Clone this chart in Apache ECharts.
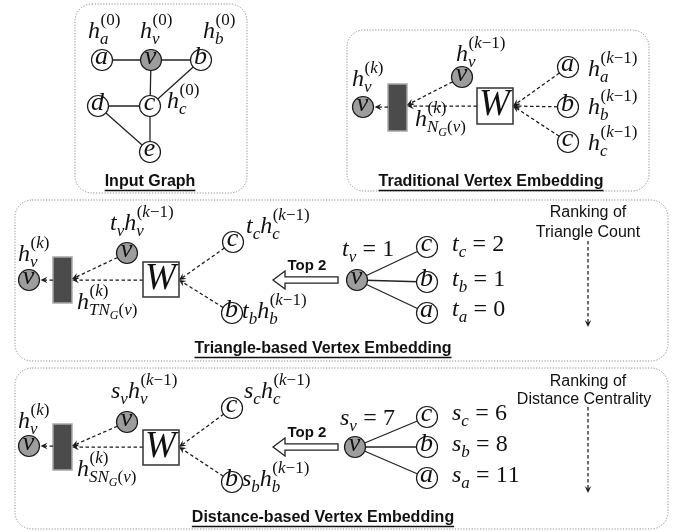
<!DOCTYPE html>
<html><head><meta charset="utf-8">
<script src="https://cdn.jsdelivr.net/npm/echarts@6/dist/echarts.min.js"></script>
<style>html,body{margin:0;padding:0;background:#fff}#c{width:681px;height:532px}</style>
</head><body><div id="c"></div>
<script>
// ---------------- data ----------------
const panelBoxes = [[75,4,247,193],[347,30,649,191],[15,200,668,361],[15,368,668,529]];
const panelTitles = ['Input Graph','Traditional Vertex Embedding','Triangle-based Vertex Embedding','Distance-based Vertex Embedding'];
const panelTitleAt = [[150,182],[491,182],[323,349],[323,518]];

// nodes: id, letter, x, y, shaded
const inputNodes = [['a','a',102,60,0],['v','v',151,60,1],['b','b',201,60,0],['d','d',98,106,0],['c','c',150,106,0],['e','e',150,152,0]];
const inputEdges = [['a','v'],['v','b'],['v','c'],['b','c'],['d','c'],['d','e'],['c','e']];
const tradNodes = [['T_out','v',363,107,1],['T_v','v',462,77,1],['T_a','a',568,67,0],['T_b','b',568,107,0],['T_c','c',568,142,0]];
const triNodes = [['R_out','v',29,280,1],['R_v','v',127,253,1],['R_c','c',233,242,0],['R_b','b',232,313,0],
                  ['R_rv','v',357,280,1],['R_rc','c',427,247,0],['R_rb','b',427,282,0],['R_ra','a',427,313,0]];
const triEdges = [['R_rv','R_rc'],['R_rv','R_rb'],['R_rv','R_ra']];
const distNodes = [['D_out','v',29,446,1],['D_v','v',127,422,1],['D_c','c',232,408,0],['D_b','b',232,482,0],
                   ['D_rv','v',355,447,1],['D_rc','c',427,417,0],['D_rb','b',427,447,0],['D_ra','a',427,478,0]];
const distEdges = [['D_rv','D_rc'],['D_rv','D_rb'],['D_rv','D_ra']];

const dashedArrows = [
  ['T_a',[513,106]],['T_b',[513,106]],['T_c',[513,106]],[[477,106],[407,106]],['T_v',[407,105]],[[388,107],'T_out'],
  ['R_c',[179,280]],['R_b',[179,280]],[[143,280],[72,280]],['R_v',[72,279]],[[53,280],'R_out'],
  ['D_c',[179,447]],['D_b',[179,447]],[[143,447],[72,447]],['D_v',[72,446]],[[53,446],'D_out'],
  [[588,241],[588,327]],[[588,407],[588,493]]];

const darkBlocks = [[388,84,407,131],[53,257,72,303],[53,424,72,470]];
const weightBoxes = [[477,88,513,124],[143,262,179,297],[143,430,179,465]];
const hollowArrows = [[273,280,338],[273,447,338]];
const top2Labels = [['Top 2',307,266],['Top 2',307,433]];
const rankingLabels = [['Ranking of',588,213],['Triangle Count',588,233],['Ranking of',588,382],['Distance Centrality',584,400]];

// math labels: tex-like string, left x, baseline y
const mathLabels = [
  ['h_{a}^{(0)}',88,40],['h_{v}^{(0)}',140,40],['h_{b}^{(0)}',203,40],['h_{c}^{(0)}',167,110],
  ['h_{v}^{(k)}',352,88],['h_{v}^{(k-1)}',456,63],['h_{N_{G}(v)}^{(k)}',415,128],
  ['h_{a}^{(k-1)}',588,78],['h_{b}^{(k-1)}',588,116],['h_{c}^{(k-1)}',588,152],
  ['h_{v}^{(k)}',18,263],['t_{v}h_{v}^{(k-1)}',110,232],['h_{TN_{G}(v)}^{(k)}',77,311],
  ['t_{c}h_{c}^{(k-1)}',246,235],['t_{b}h_{b}^{(k-1)}',242,320],
  ['t_{v}=1',342,258],['t_{c}=2',452,253],['t_{b}=1',452,288],['t_{a}=0',452,318],
  ['h_{v}^{(k)}',18,430],['s_{v}h_{v}^{(k-1)}',111,400],['h_{SN_{G}(v)}^{(k)}',77,478],
  ['s_{c}h_{c}^{(k-1)}',244,400],['s_{b}h_{b}^{(k-1)}',242,488],
  ['s_{v}=7',340,427],['s_{c}=6',452,422],['s_{b}=8',452,453],['s_{a}=11',452,484]];

// ---------------- helpers ----------------
const allNodes = [].concat(inputNodes, tradNodes, triNodes, distNodes);
const nodeById = {};
allNodes.forEach(n => { nodeById[n[0]] = n; });
const solidEdges = [].concat(inputEdges, triEdges, distEdges);

const NODE_R = 10.5;
const MATH_SIZE = 24;
const MATH_FONT = '"Liberation Serif", "DejaVu Serif", serif';
const SANS = '"Liberation Sans", Arial, sans-serif';
const INK = '#111';
const mctx = document.createElement('canvas').getContext('2d');
function tw(text, font) { mctx.font = font; return mctx.measureText(text).width; }
function mfont(size, italic) { return (italic ? 'italic ' : '') + size.toFixed(1) + 'px ' + MATH_FONT; }

function textEl(text, x, y, font, align) {
  return {type: 'text', x: x, y: y, style: {text: text, font: font, fill: INK,
    align: align || 'left', textAlign: align || 'left', verticalAlign: 'middle', textVerticalAlign: 'middle'}};
}
function piece(t, x, base, size, italic) { return textEl(t, x, base - 0.34 * size, mfont(size, italic)); }

function layoutMath(str, x, base, size, out) {
  let i = 0;
  function readGroup() {
    if (str[i] === '{') {
      let depth = 1, j = i + 1;
      while (depth > 0 && j < str.length) { if (str[j] === '{') depth++; else if (str[j] === '}') depth--; j++; }
      const g = str.slice(i + 1, j - 1); i = j; return g;
    }
    return str[i++];
  }
  while (i < str.length) {
    const ch = str[i];
    if (ch === '{') { const g = readGroup(); x = layoutMath(g, x, base, size, out); }
    else if (ch === '=') {
      i++; const sp = size * 0.26; x += sp;
      out.push(piece('=', x, base, size, false)); x += tw('=', mfont(size, false)) + sp;
    } else {
      i++; const italic = /[a-zA-Z]/.test(ch); const t = ch === '-' ? '\u2212' : ch;
      out.push(piece(t, x, base, size, italic)); x += tw(t, mfont(size, italic));
    }
    let subEnd = x, supEnd = x;
    while (str[i] === '_' || str[i] === '^') {
      const kind = str[i++]; const g = readGroup();
      if (kind === '_') subEnd = layoutMath(g, x, base + size * 0.22, size * 0.71, out);
      else supEnd = layoutMath(g, x + 0.5, base - size * 0.56, size * 0.71, out);
    }
    x = Math.max(subEnd, supEnd);
  }
  return x;
}

function customSeries(items, anchor, draw, z) {
  return {type: 'custom', coordinateSystem: 'cartesian2d', silent: true, clip: false, z: z || 2,
    data: items.map(anchor),
    renderItem: (params, api) => draw(items[params.dataIndex], api)};
}

function endpoint(e) { return typeof e === 'string' ? [nodeById[e][2], nodeById[e][3]] : e; }

// ---------------- chart ----------------
const chart = echarts.init(document.getElementById('c'));
const option = {
  animation: false,
  grid: {left: 0, right: 0, top: 0, bottom: 0},
  xAxis: {type: 'value', min: 0, max: 681, show: false},
  yAxis: {type: 'value', min: 0, max: 532, inverse: true, show: false},
  series: [
    // panels
    customSeries(panelBoxes, d => [d[0], d[1]], (d, api) => {
      const p = api.coord([d[0], d[1]]), q = api.coord([d[2], d[3]]);
      return {type: 'rect', shape: {x: p[0], y: p[1], width: q[0] - p[0], height: q[1] - p[1], r: 17},
        style: {fill: 'none', stroke: '#8c8c8c', lineWidth: 1, lineDash: [1.2, 1.6]}};
    }, 1),
    // panel titles (bold + underline)
    customSeries(panelTitles, (d, i) => panelTitleAt[i], (d, api) => {
      const idx = panelTitles.indexOf(d);
      const p = api.coord(panelTitleAt[idx]);
      const font = 'bold 16px ' + SANS;
      const w = tw(d, font);
      return {type: 'group', children: [
        textEl(d, p[0], p[1], font, 'center'),
        {type: 'line', shape: {x1: p[0] - w / 2, y1: p[1] + 8.5, x2: p[0] + w / 2, y2: p[1] + 8.5}, style: {stroke: INK, lineWidth: 1.4}}
      ]};
    }),
    // dark aggregation blocks
    customSeries(darkBlocks, d => [d[0], d[1]], (d, api) => {
      const p = api.coord([d[0], d[1]]), q = api.coord([d[2], d[3]]);
      return {type: 'rect', shape: {x: p[0], y: p[1], width: q[0] - p[0], height: q[1] - p[1]},
        style: {fill: '#4b4b4b', stroke: '#a8a8a8', lineWidth: 1.5}};
    }),
    // solid edges
    customSeries(solidEdges, d => [nodeById[d[0]][2], nodeById[d[0]][3]], (d, api) => {
      const p = api.coord(endpoint(d[0])), q = api.coord(endpoint(d[1]));
      return {type: 'line', shape: {x1: p[0], y1: p[1], x2: q[0], y2: q[1]}, style: {stroke: '#222', lineWidth: 1.3}};
    }),
    // dashed arrows
    customSeries(dashedArrows, d => endpoint(d[0]), (d, api) => {
      let p = api.coord(endpoint(d[0])), q = api.coord(endpoint(d[1]));
      const dx = q[0] - p[0], dy = q[1] - p[1], L = Math.hypot(dx, dy), ux = dx / L, uy = dy / L, nx = -uy, ny = ux;
      if (typeof d[0] === 'string') p = [p[0] + ux * NODE_R, p[1] + uy * NODE_R];
      if (typeof d[1] === 'string') q = [q[0] - ux * (NODE_R + 1), q[1] - uy * (NODE_R + 1)];
      const hl = 7, hw = 3.3;
      const b = [q[0] - ux * hl, q[1] - uy * hl];
      const notch = [q[0] - ux * hl * 0.62, q[1] - uy * hl * 0.62];
      return {type: 'group', children: [
        {type: 'line', shape: {x1: p[0], y1: p[1], x2: notch[0], y2: notch[1]}, style: {stroke: '#1a1a1a', lineWidth: 1.25, lineDash: [3.5, 2.5]}},
        {type: 'polygon', shape: {points: [q, [b[0] + nx * hw, b[1] + ny * hw], notch, [b[0] - nx * hw, b[1] - ny * hw]]}, style: {fill: '#1a1a1a'}}
      ]};
    }),
    // weight boxes
    customSeries(weightBoxes, d => [d[0], d[1]], (d, api) => {
      const p = api.coord([d[0], d[1]]), q = api.coord([d[2], d[3]]);
      const fs = 37;
      return {type: 'group', children: [
        {type: 'rect', shape: {x: p[0], y: p[1], width: q[0] - p[0], height: q[1] - p[1]}, style: {fill: '#fff', stroke: '#333', lineWidth: 1.5}},
        textEl('W', (p[0] + q[0]) / 2 - 0.5, (p[1] + q[1]) / 2 + 0.33 * fs - 0.34 * fs, mfont(fs, true), 'center')
      ]};
    }),
    // hollow "Top 2" arrows
    customSeries(hollowArrows, d => [d[0], d[1]], (d, api) => {
      const t = api.coord([d[0], d[1]]), e = api.coord([d[2], d[1]]);
      const hb = t[0] + 12, hh = 9, bh = 3.2;
      return {type: 'polygon', shape: {points: [[t[0], t[1]], [hb, t[1] - hh], [hb, t[1] - bh], [e[0], t[1] - bh], [e[0], t[1] + bh], [hb, t[1] + bh], [hb, t[1] + hh]]},
        style: {fill: '#fff', stroke: '#222', lineWidth: 1.3}};
    }),
    // nodes
    customSeries(allNodes, d => [d[2], d[3]], (d, api) => {
      const c = api.coord([d[2], d[3]]);
      const fs = 26;
      return {type: 'group', children: [
        {type: 'circle', shape: {cx: c[0], cy: c[1], r: NODE_R}, style: {fill: d[4] ? '#9d9d9d' : '#fff', stroke: '#1a1a1a', lineWidth: 1.2}},
        textEl(d[1], c[0] - 0.5, c[1] + 0.225 * fs - 0.34 * fs, mfont(fs, true), 'center')
      ]};
    }, 3),
    // math labels
    customSeries(mathLabels, d => [d[1], d[2]], (d, api) => {
      const p = api.coord([d[1], d[2]]);
      const out = [];
      layoutMath(d[0], p[0], p[1], MATH_SIZE, out);
      return {type: 'group', children: out};
    }, 4),
    // Top 2 labels
    customSeries(top2Labels, d => [d[1], d[2]], (d, api) => {
      const p = api.coord([d[1], d[2]]);
      return textEl(d[0], p[0], p[1], 'bold 15px ' + SANS, 'center');
    }, 4),
    // ranking labels
    customSeries(rankingLabels, d => [d[1], d[2]], (d, api) => {
      const p = api.coord([d[1], d[2]]);
      return textEl(d[0], p[0], p[1], '16px ' + SANS, 'center');
    }, 4)
  ]
};
chart.setOption(option);
</script>
</body></html>
